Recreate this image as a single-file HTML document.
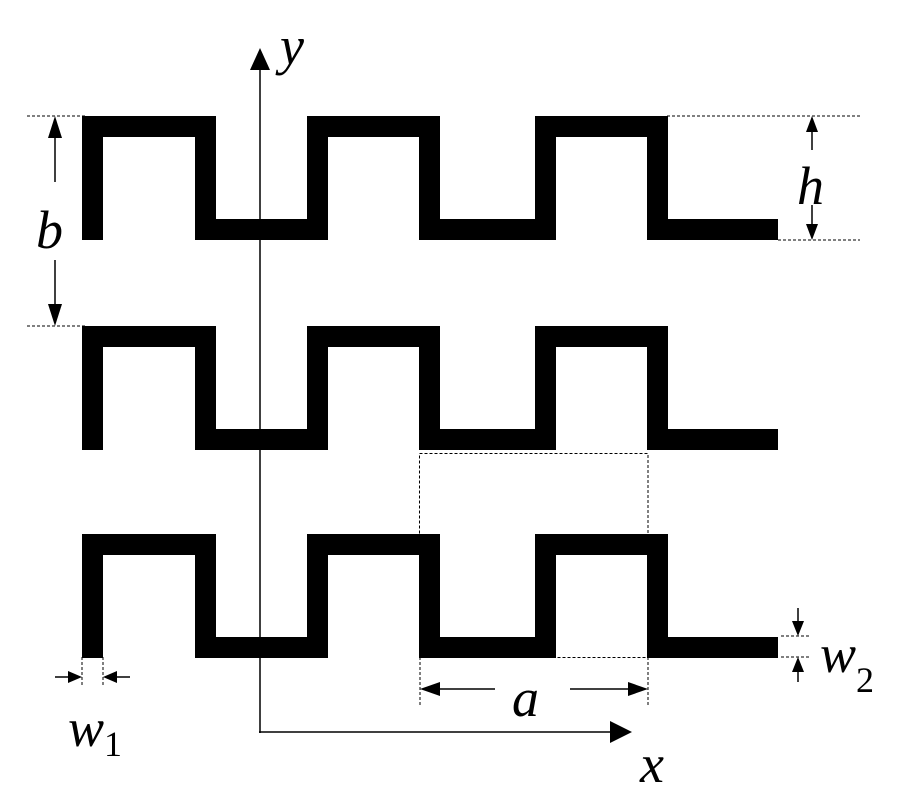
<!DOCTYPE html><html><head><style>body{margin:0;background:#fff}svg{display:block}text{font-family:"Liberation Serif","Times New Roman",serif;font-style:italic}</style></head><body>
<svg width="900" height="800" viewBox="0 0 900 800">
<g fill="none" stroke="#000" stroke-width="21" stroke-linejoin="miter">
<path id="w" d="M92.5,240V126.5H205.5V229.5H317.5V126.5H429.5V229.5H545.5V126.5H657.5V229.5H778"/>
<use href="#w" y="210"/><use href="#w" y="418"/>
</g>
<g stroke="#000" stroke-width="1" stroke-dasharray="3,2" fill="none">
<line x1="27" y1="116" x2="85" y2="116"/><line x1="27" y1="326" x2="85" y2="326"/>
<line x1="667" y1="116" x2="860" y2="116"/><line x1="778" y1="240" x2="860" y2="240"/>
<line x1="781" y1="636" x2="810" y2="636"/><line x1="781" y1="657" x2="810" y2="657"/>
<rect x="419.5" y="453.5" width="228.5" height="204"/>
<line x1="420" y1="657" x2="420" y2="707"/><line x1="648" y1="657" x2="648" y2="707"/>
<line x1="82" y1="657" x2="82" y2="685"/><line x1="103" y1="657" x2="103" y2="685"/>
</g>
<g stroke="#000" stroke-width="1.5">
<line x1="260" y1="733" x2="260" y2="60"/>
<line x1="259" y1="732" x2="615" y2="732"/>
<line x1="55" y1="182" x2="55" y2="130"/><line x1="55" y1="260" x2="55" y2="312"/>
<line x1="812" y1="150" x2="812" y2="125"/><line x1="812" y1="205" x2="812" y2="230"/>
<line x1="798" y1="608" x2="798" y2="625"/><line x1="798" y1="682" x2="798" y2="667"/>
<line x1="495" y1="689" x2="430" y2="689"/><line x1="570" y1="689" x2="638" y2="689"/>
<line x1="55" y1="677" x2="72" y2="677"/><line x1="130" y1="677" x2="113" y2="677"/>
</g>
<g fill="#000">
<path d="M260,48L250,70H270z"/><path d="M632,732L610,721V743z"/>
<path d="M55,116L48,138H62z"/><path d="M55,326L48,304H62z"/>
<path d="M812,116L806,132H818z"/><path d="M812,240L806,224H818z"/>
<path d="M798,636L792,621H804z"/><path d="M798,657L792,672H804z"/>
<path d="M420,689L440,682V696z"/><path d="M648,689L628,682V696z"/>
<path d="M82,677L68,671V683z"/><path d="M103,677L117,671V683z"/>
</g>
<g font-size="54">
<text x="280" y="64">y</text>
<text x="36" y="248">b</text>
<text x="797" y="204">h</text>
<text x="640" y="782">x</text>
<text x="512" y="716">a</text>
<text x="68" y="746">w<tspan font-size="36" font-style="normal" dy="10">1</tspan></text>
<text x="820" y="672">w<tspan font-size="36" font-style="normal" dy="20">2</tspan></text>
</g>
</svg></body></html>
